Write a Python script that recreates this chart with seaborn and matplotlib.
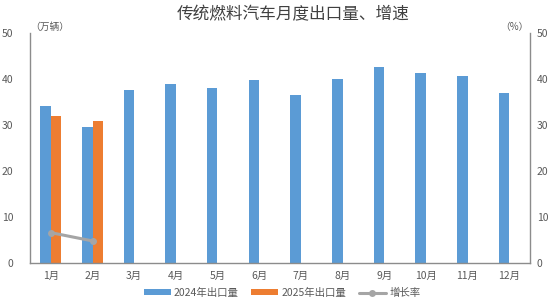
import matplotlib
matplotlib.use("Agg")
import matplotlib.pyplot as plt
import seaborn as sns
import pandas as pd
import numpy as np
from matplotlib.patches import Patch
from matplotlib.lines import Line2D

months = ["1月", "2月", "3月", "4月", "5月", "6月", "7月", "8月", "9月", "10月", "11月", "12月"]
exports_2024 = [34.2, 29.5, 37.6, 38.9, 38.1, 39.8, 36.5, 40.1, 42.7, 41.2, 40.6, 36.9]
exports_2025 = [32.0, 30.9, None, None, None, None, None, None, None, None, None, None]
growth = [6.6, 4.8]
series_names = ["2024年出口量", "2025年出口量", "增长率"]
yticks = [0, 10, 20, 30, 40, 50]

sns.set_theme(style="white")
plt.rcParams["font.family"] = ["Noto Sans CJK SC", "DejaVu Sans"]

df = pd.DataFrame({
    "month": months * 2,
    "value": exports_2024 + [np.nan if v is None else v for v in exports_2025],
    "series": [series_names[0]] * 12 + [series_names[1]] * 12,
})

blue = "#5B9BD5"
orange = "#ED7D31"
gray = "#A5A5A5"
text_c = "#595959"
spine_c = "#8C8C8C"

fig = plt.figure(figsize=(5.54, 3.02), dpi=100)
ax = fig.add_axes([30 / 554, 1 - 263 / 302, 500 / 554, 230 / 302])
sns.barplot(data=df, x="month", y="value", hue="series", order=months,
            palette=[blue, orange], width=0.5, ax=ax, legend=False,
            saturation=1, linewidth=0)
ax.set_ylim(0, 50)
ax.set_xlim(-0.5, 11.5)
ax.set_yticks(yticks)
ax.set_xlabel("")
ax.set_ylabel("")
ax.tick_params(axis="both", labelsize=7.5, colors=text_c, length=0, pad=6)
ax.tick_params(axis="y", pad=12)
for s in ["top", "right"]:
    ax.spines[s].set_visible(False)
for s in ["left", "bottom"]:
    ax.spines[s].set_color(spine_c)
    ax.spines[s].set_linewidth(1.0)

ax2 = ax.twinx()
sns.lineplot(x=list(range(len(growth))), y=growth, ax=ax2, color=gray,
             linewidth=2.2, marker="o", markersize=5, markeredgewidth=0)
ax2.set_ylim(0, 50)
ax2.set_yticks(yticks)
ax2.tick_params(axis="y", labelsize=7.5, colors=text_c, length=0, pad=5)
for s in ["top", "left", "bottom"]:
    ax2.spines[s].set_visible(False)
ax2.spines["right"].set_color(spine_c)
ax2.spines["right"].set_linewidth(1.0)
ax2.set_ylabel("")

fig.text(293 / 554, 1 - 15 / 302, "传统燃料汽车月度出口量、增速", ha="center", va="center",
         fontsize=12, color="#404040")
fig.text(30 / 554, 1 - 27 / 302, "（万辆）", ha="left", va="center", fontsize=7, color=text_c)
fig.text(514 / 554, 1 - 27 / 302, "（%）", ha="center", va="center", fontsize=7, color=text_c)

handles = [
    Patch(facecolor=blue, edgecolor="none"),
    Patch(facecolor=orange, edgecolor="none"),
    Line2D([0], [0], color=gray, linewidth=2.2, marker="o", markersize=5, markeredgewidth=0),
]
fig.legend(handles, series_names, loc="center", bbox_to_anchor=(282 / 554, 1 - 293 / 302),
           ncol=3, frameon=False, fontsize=7.5, handlelength=2.6, handleheight=0.5,
           columnspacing=1.2, handletextpad=0.3, labelcolor=text_c)

fig.savefig("out.png", dpi=100)
